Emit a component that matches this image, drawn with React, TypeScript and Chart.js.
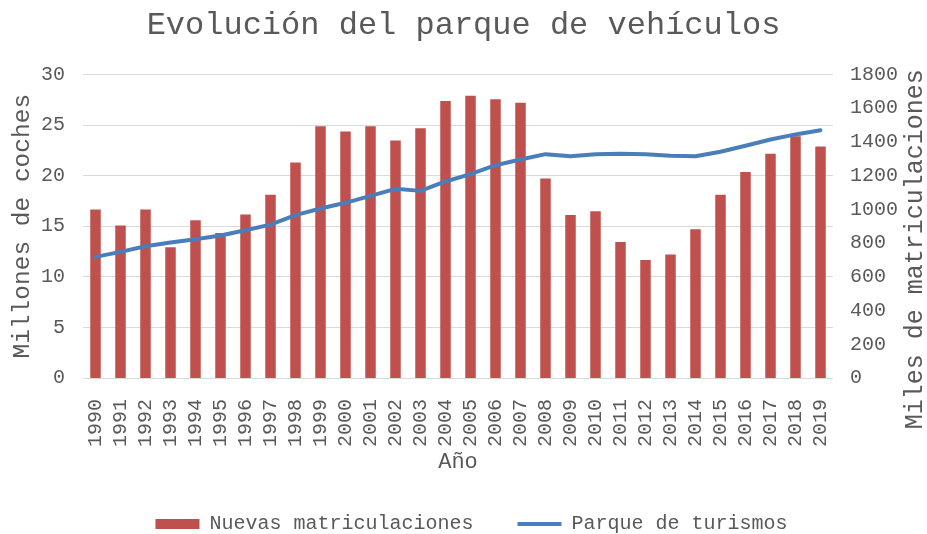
import React, { useEffect, useRef } from "react";
import { Chart, registerables } from "chart.js";

Chart.register(...registerables);

const years = [
  "1990", "1991", "1992", "1993", "1994", "1995", "1996", "1997", "1998", "1999",
  "2000", "2001", "2002", "2003", "2004", "2005", "2006", "2007", "2008", "2009",
  "2010", "2011", "2012", "2013", "2014", "2015", "2016", "2017", "2018", "2019",
];

// Nuevas matriculaciones (miles) - eje derecho
const matriculaciones = [
  999, 904, 999, 775, 935, 860, 969, 1086, 1278, 1493,
  1462, 1493, 1408, 1481, 1642, 1673, 1652, 1632, 1183, 967,
  989, 807, 700, 732, 882, 1086, 1222, 1329, 1434, 1373,
];

// Parque de turismos (millones) - eje izquierdo
const parque = [
  11.97, 12.46, 13.02, 13.38, 13.71, 14.08, 14.6, 15.16, 16.09, 16.75,
  17.31, 18.0, 18.69, 18.49, 19.42, 20.14, 21.03, 21.59, 22.12, 21.92,
  22.12, 22.15, 22.12, 21.96, 21.92, 22.35, 22.95, 23.57, 24.07, 24.49,
];

const chartTitle = "Evolución del parque de vehículos";
const xTitle = "Año";
const yLeftTitle = "Millones de coches";
const yRightTitle = "Miles de matriculaciones";

const FONT = "'Liberation Mono', 'Courier New', monospace";
const TEXT = "#595959";

export default function App() {
  const ref = useRef<HTMLCanvasElement | null>(null);

  useEffect(() => {
    document.body.style.margin = "0";
    const canvas = ref.current;
    if (!canvas) return;

    const shiftLegend = {
      id: "shiftLegend",
      afterLayout(chart: any) {
        const lg = chart.legend;
        if (lg) {
          lg.top += 10;
          lg.bottom += 10;
          lg.left += 8;
          lg.right += 8;
        }
      },
    };

    const rightTitle = {
      id: "rightTitle",
      afterDraw(chart: any) {
        const ctx = chart.ctx;
        const s = chart.scales.y1;
        ctx.save();
        ctx.fillStyle = TEXT;
        ctx.font = `25px ${FONT}`;
        ctx.textAlign = "center";
        ctx.textBaseline = "middle";
        ctx.translate(s.right - 12, (s.top + s.bottom) / 2 + 23);
        ctx.rotate(-Math.PI / 2);
        ctx.fillText(yRightTitle, 0, 0);
        ctx.restore();
      },
    };

    const chart = new Chart(canvas, {
      type: "bar",
      data: {
        labels: years,
        datasets: [
          {
            type: "bar",
            label: "Nuevas matriculaciones",
            data: matriculaciones,
            backgroundColor: "#C0504D",
            borderWidth: 0,
            yAxisID: "y1",
            categoryPercentage: 1,
            barPercentage: 0.42,
            order: 2,
            pointStyle: "rect",
          } as any,
          {
            type: "line",
            label: "Parque de turismos",
            data: parque,
            borderColor: "#4A7EBB",
            backgroundColor: "#4A7EBB",
            borderWidth: 4,
            pointRadius: 0,
            pointStyle: "line",
            tension: 0,
            borderJoinStyle: "round",
            borderCapStyle: "round",
            yAxisID: "y",
            order: 1,
          } as any,
        ],
      },
      options: {
        responsive: false,
        animation: false,
        layout: { padding: 0 },
        scales: {
          x: {
            grid: { display: false },
            border: { display: false },
            ticks: {
              minRotation: 90,
              maxRotation: 90,
              autoSkip: false,
              padding: 13,
              color: TEXT,
              font: { family: FONT, size: 20 },
            },
            title: {
              display: true,
              text: xTitle,
              color: TEXT,
              font: { family: FONT, size: 22 },
              padding: { top: 0, bottom: -15 },
            },
            afterFit(scale: any) {
              scale.height = 82;
            },
          },
          y: {
            position: "left",
            min: 0,
            max: 30,
            ticks: {
              stepSize: 5,
              padding: 18,
              color: TEXT,
              font: { family: FONT, size: 20 },
            },
            grid: { color: "#D9D9D9", lineWidth: 1, drawTicks: false },
            border: { display: false },
            title: {
              display: true,
              text: yLeftTitle,
              color: TEXT,
              font: { family: FONT, size: 24.5, lineHeight: 1 },
              padding: { top: 10, bottom: 0 },
            },
            afterFit(scale: any) {
              scale.width = 83;
            },
          },
          y1: {
            position: "right",
            min: 0,
            max: 1800,
            ticks: {
              stepSize: 200,
              padding: 17,
              color: TEXT,
              font: { family: FONT, size: 20 },
              callback: (v: any) => String(v),
            },
            grid: { display: false, drawTicks: false },
            border: { display: false },
            title: { display: false },
            afterFit(scale: any) {
              scale.width = 94;
            },
          },
        },
        plugins: {
          title: {
            display: true,
            text: chartTitle,
            color: TEXT,
            font: { family: FONT, size: 32, weight: "normal" },
            padding: { top: 6, bottom: 30 },
          },
          legend: {
            position: "bottom",
            labels: {
              usePointStyle: true,
              pointStyleWidth: 44,
              boxHeight: 10,
              padding: 44,
              color: TEXT,
              font: { family: FONT, size: 20 },
              sort: (a: any, b: any) => a.datasetIndex - b.datasetIndex,
            },
          },
          tooltip: { enabled: false },
        },
      },
      plugins: [shiftLegend, rightTitle],
    });

    return () => chart.destroy();
  }, []);

  return (
    <canvas
      ref={ref}
      width={927}
      height={534}
      style={{ display: "block", width: 927, height: 534 }}
    />
  );
}
